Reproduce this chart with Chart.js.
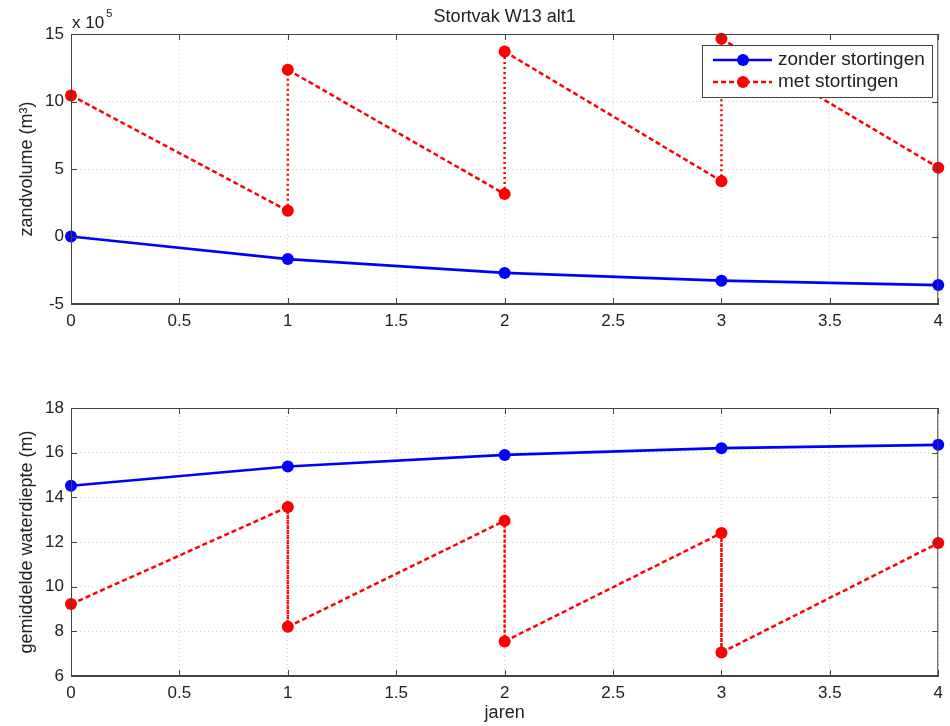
<!DOCTYPE html>
<html>
<head>
<meta charset="utf-8">
<script src="https://cdn.jsdelivr.net/npm/chart.js@4"></script>
<style>
  html, body { margin: 0; padding: 0; background: #fff; }
  #wrap { position: relative; width: 950px; height: 726px; }
  #wrap canvas { position: absolute; left: 0; }
  #cTop { top: 0; }
  #cBot { top: 340px; }
</style>
</head>
<body>
<div id="wrap">
  <canvas id="cTop" width="950" height="340"></canvas>
  <canvas id="cBot" width="950" height="386"></canvas>
</div>
<script>
// years, the "met" series has two points per dump year (before / after)
const jarenZonder = [0, 1, 2, 3, 4];
const jarenMet = [0, 1, 1, 2, 2, 3, 3, 4];

// zandvolume in units of 1e5 m3
const volumeZonder = [0, -1.67, -2.7, -3.27, -3.6];
const volumeMet = [10.45, 1.9, 12.35, 3.15, 13.7, 4.1, 14.65, 5.1];

// gemiddelde waterdiepte (m)
const diepteZonder = [14.52, 15.38, 15.9, 16.2, 16.35];
const diepteMet = [9.22, 13.57, 8.2, 12.95, 7.55, 12.4, 7.05, 11.95];

const seriesNames = ["zonder stortingen", "met stortingen"];
const BLUE = "#0000ff";
const RED = "#ff0000";
const FONT = "Arial, 'Liberation Sans', sans-serif";

function toPoints(xs, ys) {
  return xs.map((x, i) => ({ x: x, y: ys[i] }));
}

function makeDatasets(xsA, ysA, xsB, ysB) {
  return [
    {
      label: seriesNames[0],
      data: toPoints(xsA, ysA),
      borderColor: BLUE,
      backgroundColor: BLUE,
      borderWidth: 2.7,
      pointRadius: 6,
      pointHoverRadius: 6,
      pointBorderWidth: 0,
      showLine: true,
      clip: false
    },
    {
      label: seriesNames[1],
      data: toPoints(xsB, ysB),
      borderColor: RED,
      backgroundColor: RED,
      borderWidth: 2.5,
      pointRadius: 6,
      pointHoverRadius: 6,
      pointBorderWidth: 0,
      showLine: true,
      clip: false,
      segment: {
        // vertical jumps look dotted, the slopes dashed
        borderDash: ctx => ctx.p0.parsed.x === ctx.p1.parsed.x ? [2, 3] : [5, 3]
      }
    }
  ];
}

// box, inward ticks, title, exponent and legend, matlab style
const matlabDecor = {
  id: "matlabDecor",
  afterDraw(chart, args, opts) {
    const ctx = chart.ctx;
    const a = chart.chartArea;
    const xs = chart.scales.x;
    const ys = chart.scales.y;
    ctx.save();
    ctx.setLineDash([]);
    ctx.strokeStyle = "#444";
    ctx.lineWidth = 1;
    ctx.strokeRect(a.left + 0.5, a.top + 0.5, a.right - a.left - 1, a.bottom - a.top - 1);

    const len = 6;
    ctx.beginPath();
    xs.ticks.forEach(t => {
      const px = Math.round(xs.getPixelForValue(t.value)) + 0.5;
      ctx.moveTo(px, a.bottom); ctx.lineTo(px, a.bottom - len);
      ctx.moveTo(px, a.top); ctx.lineTo(px, a.top + len);
    });
    ys.ticks.forEach(t => {
      const py = Math.round(ys.getPixelForValue(t.value)) + 0.5;
      ctx.moveTo(a.left, py); ctx.lineTo(a.left + len, py);
      ctx.moveTo(a.right, py); ctx.lineTo(a.right - len, py);
    });
    ctx.stroke();

    ctx.fillStyle = "#222";
    if (opts.title) {
      ctx.font = "18px " + FONT;
      ctx.textAlign = "center";
      ctx.textBaseline = "middle";
      ctx.fillText(opts.title, (a.left + a.right) / 2, 17);
    }
    if (opts.exponent) {
      ctx.font = "17px " + FONT;
      ctx.textAlign = "left";
      ctx.textBaseline = "middle";
      const base = "x 10";
      ctx.fillText(base, a.left + 1, 23);
      const w = ctx.measureText(base).width;
      ctx.font = "11px " + FONT;
      ctx.fillText(opts.exponent, a.left + 3 + w, 14);
    }
    if (opts.legend) {
      const lx = 702, ly = 45, lw = 230, lh = 52;
      ctx.fillStyle = "#fff";
      ctx.fillRect(lx, ly, lw, lh);
      ctx.strokeStyle = "#444";
      ctx.strokeRect(lx + 0.5, ly + 0.5, lw, lh);
      chart.data.datasets.forEach((ds, i) => {
        const y = ly + 15 + i * 22;
        ctx.strokeStyle = ds.borderColor;
        ctx.lineWidth = 2.5;
        ctx.setLineDash(i === 0 ? [] : [5, 3]);
        ctx.beginPath();
        ctx.moveTo(713, y); ctx.lineTo(772, y);
        ctx.stroke();
        ctx.setLineDash([]);
        ctx.fillStyle = ds.backgroundColor;
        ctx.beginPath();
        ctx.arc(743, y, 6, 0, Math.PI * 2);
        ctx.fill();
        ctx.fillStyle = "#222";
        ctx.font = "19px " + FONT;
        ctx.textAlign = "left";
        ctx.textBaseline = "middle";
        ctx.fillText(ds.label, 778, y);
      });
    }
    ctx.restore();
  }
};

function baseOptions(cfg) {
  return {
    responsive: false,
    animation: false,
    events: [],
    layout: { padding: { top: cfg.padTop, right: 9, left: 0, bottom: 0 } },
    plugins: {
      legend: { display: false },
      tooltip: { enabled: false },
      matlabDecor: cfg.decor
    },
    scales: {
      x: {
        type: "linear",
        min: 0,
        max: 4,
        ticks: {
          stepSize: 0.5,
          color: "#222",
          padding: 7,
          font: { family: FONT, size: 17 },
          callback: v => String(Number(v))
        },
        grid: { color: "#cfcfcf", lineWidth: 1, drawTicks: false },
        border: { display: true, color: "#444", dash: [1, 3] },
        title: {
          display: !!cfg.xTitle,
          text: cfg.xTitle || "",
          color: "#222",
          font: { family: FONT, size: 18 },
          padding: { top: 0, bottom: 2 }
        },
        afterFit(scale) { scale.height = cfg.xHeight; }
      },
      y: {
        min: cfg.yMin,
        max: cfg.yMax,
        ticks: {
          stepSize: cfg.yStep,
          color: "#222",
          padding: 7,
          font: { family: FONT, size: 17 },
          callback: v => String(Number(v))
        },
        grid: { color: "#cfcfcf", lineWidth: 1, drawTicks: false },
        border: { display: true, color: "#444", dash: [1, 3] },
        title: {
          display: true,
          text: cfg.yTitle,
          color: "#222",
          font: { family: FONT, size: 18 },
          padding: { top: 16, bottom: 0 }
        },
        afterFit(scale) { scale.width = 71; }
      }
    }
  };
}

new Chart(document.getElementById("cTop"), {
  type: "scatter",
  data: { datasets: makeDatasets(jarenZonder, volumeZonder, jarenMet, volumeMet) },
  options: baseOptions({
    padTop: 34, xHeight: 36, yMin: -5, yMax: 15, yStep: 5,
    yTitle: "zandvolume (m³)",
    decor: { title: "Stortvak W13 alt1", exponent: "5", legend: true }
  }),
  plugins: [matlabDecor]
});

new Chart(document.getElementById("cBot"), {
  type: "scatter",
  data: { datasets: makeDatasets(jarenZonder, diepteZonder, jarenMet, diepteMet) },
  options: baseOptions({
    padTop: 68, xHeight: 50, yMin: 6, yMax: 18, yStep: 2,
    yTitle: "gemiddelde waterdiepte (m)",
    xTitle: "jaren",
    decor: {}
  }),
  plugins: [matlabDecor]
});
</script>
</body>
</html>
